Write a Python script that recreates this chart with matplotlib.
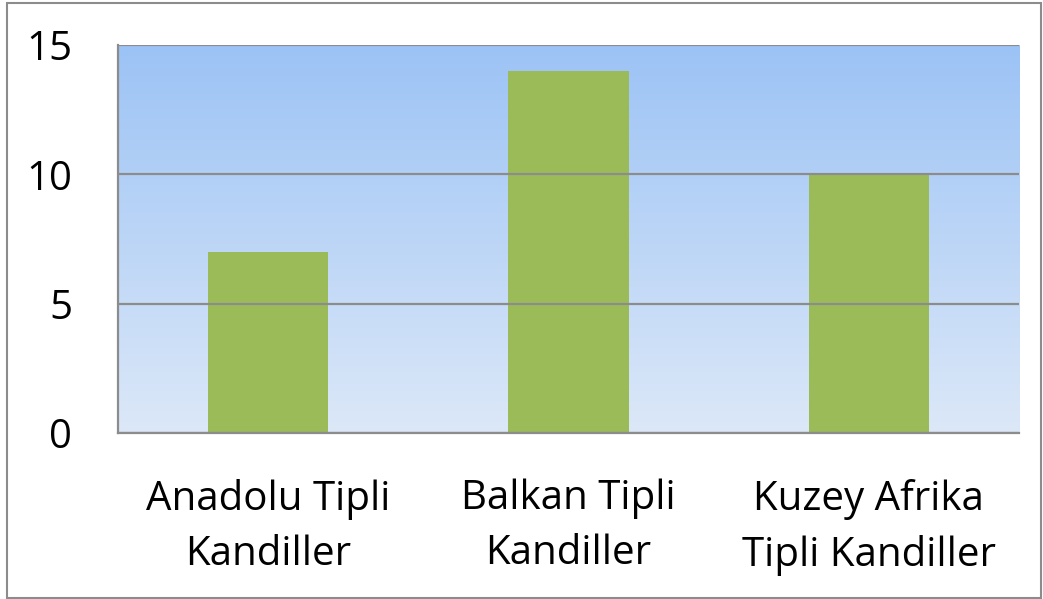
import numpy as np
import matplotlib
matplotlib.use("Agg")
import matplotlib.pyplot as plt
from matplotlib.colors import LinearSegmentedColormap
from matplotlib.patches import Rectangle

categories = ["Anadolu Tipli\nKandiller", "Balkan Tipli\nKandiller", "Kuzey Afrika\nTipli Kandiller"]
values = [7, 14, 10]
y_ticks = [0, 5, 10, 15]

plt.rcParams['font.family'] = ['Open Sans', 'DejaVu Sans']

W, H = 1043, 599
fig = plt.figure(figsize=(W / 100, H / 100), dpi=100)

# outer frame of the chart
fig.patches.append(Rectangle((7 / W, 1 - 598 / H), (1041 - 7) / W, (598 - 3) / H,
                             transform=fig.transFigure, fill=False,
                             edgecolor="#8c8c8c", linewidth=1.5))

left, right, top, bottom = 118, 1019, 45, 433
ax = fig.add_axes([left / W, 1 - bottom / H, (right - left) / W, (bottom - top) / H])

x = np.arange(len(categories))
ax.set_xlim(-0.5, len(categories) - 0.5)
ax.set_ylim(0, 15)

# vertical blue gradient behind the bars
grad = LinearSegmentedColormap.from_list("bg", ["#dce8f8", "#9cc3f5"])
ax.imshow(np.linspace(0, 1, 256).reshape(-1, 1), aspect="auto", cmap=grad,
          extent=(-0.5, len(categories) - 0.5, 0, 15), origin="lower", zorder=0)

ax.set_yticks(y_ticks)
ax.yaxis.grid(True, color="#8c8c8c", linewidth=1.6, zorder=1)
ax.set_axisbelow(False)

ax.bar(x, values, width=0.4, color="#9bbb59", zorder=2)

for s in ["top", "right"]:
    ax.spines[s].set_visible(False)
for s in ["left", "bottom"]:
    ax.spines[s].set_color("#8c8c8c")
    ax.spines[s].set_linewidth(1.6)
    ax.spines[s].set_zorder(3)

ax.set_xticks(x)
ax.set_xticklabels(categories, fontsize=29, linespacing=1.48)
ax.tick_params(axis="x", length=0, pad=33)
ax.tick_params(axis="y", length=0, pad=33, labelsize=29)

fig.savefig("out.png", dpi=100)
